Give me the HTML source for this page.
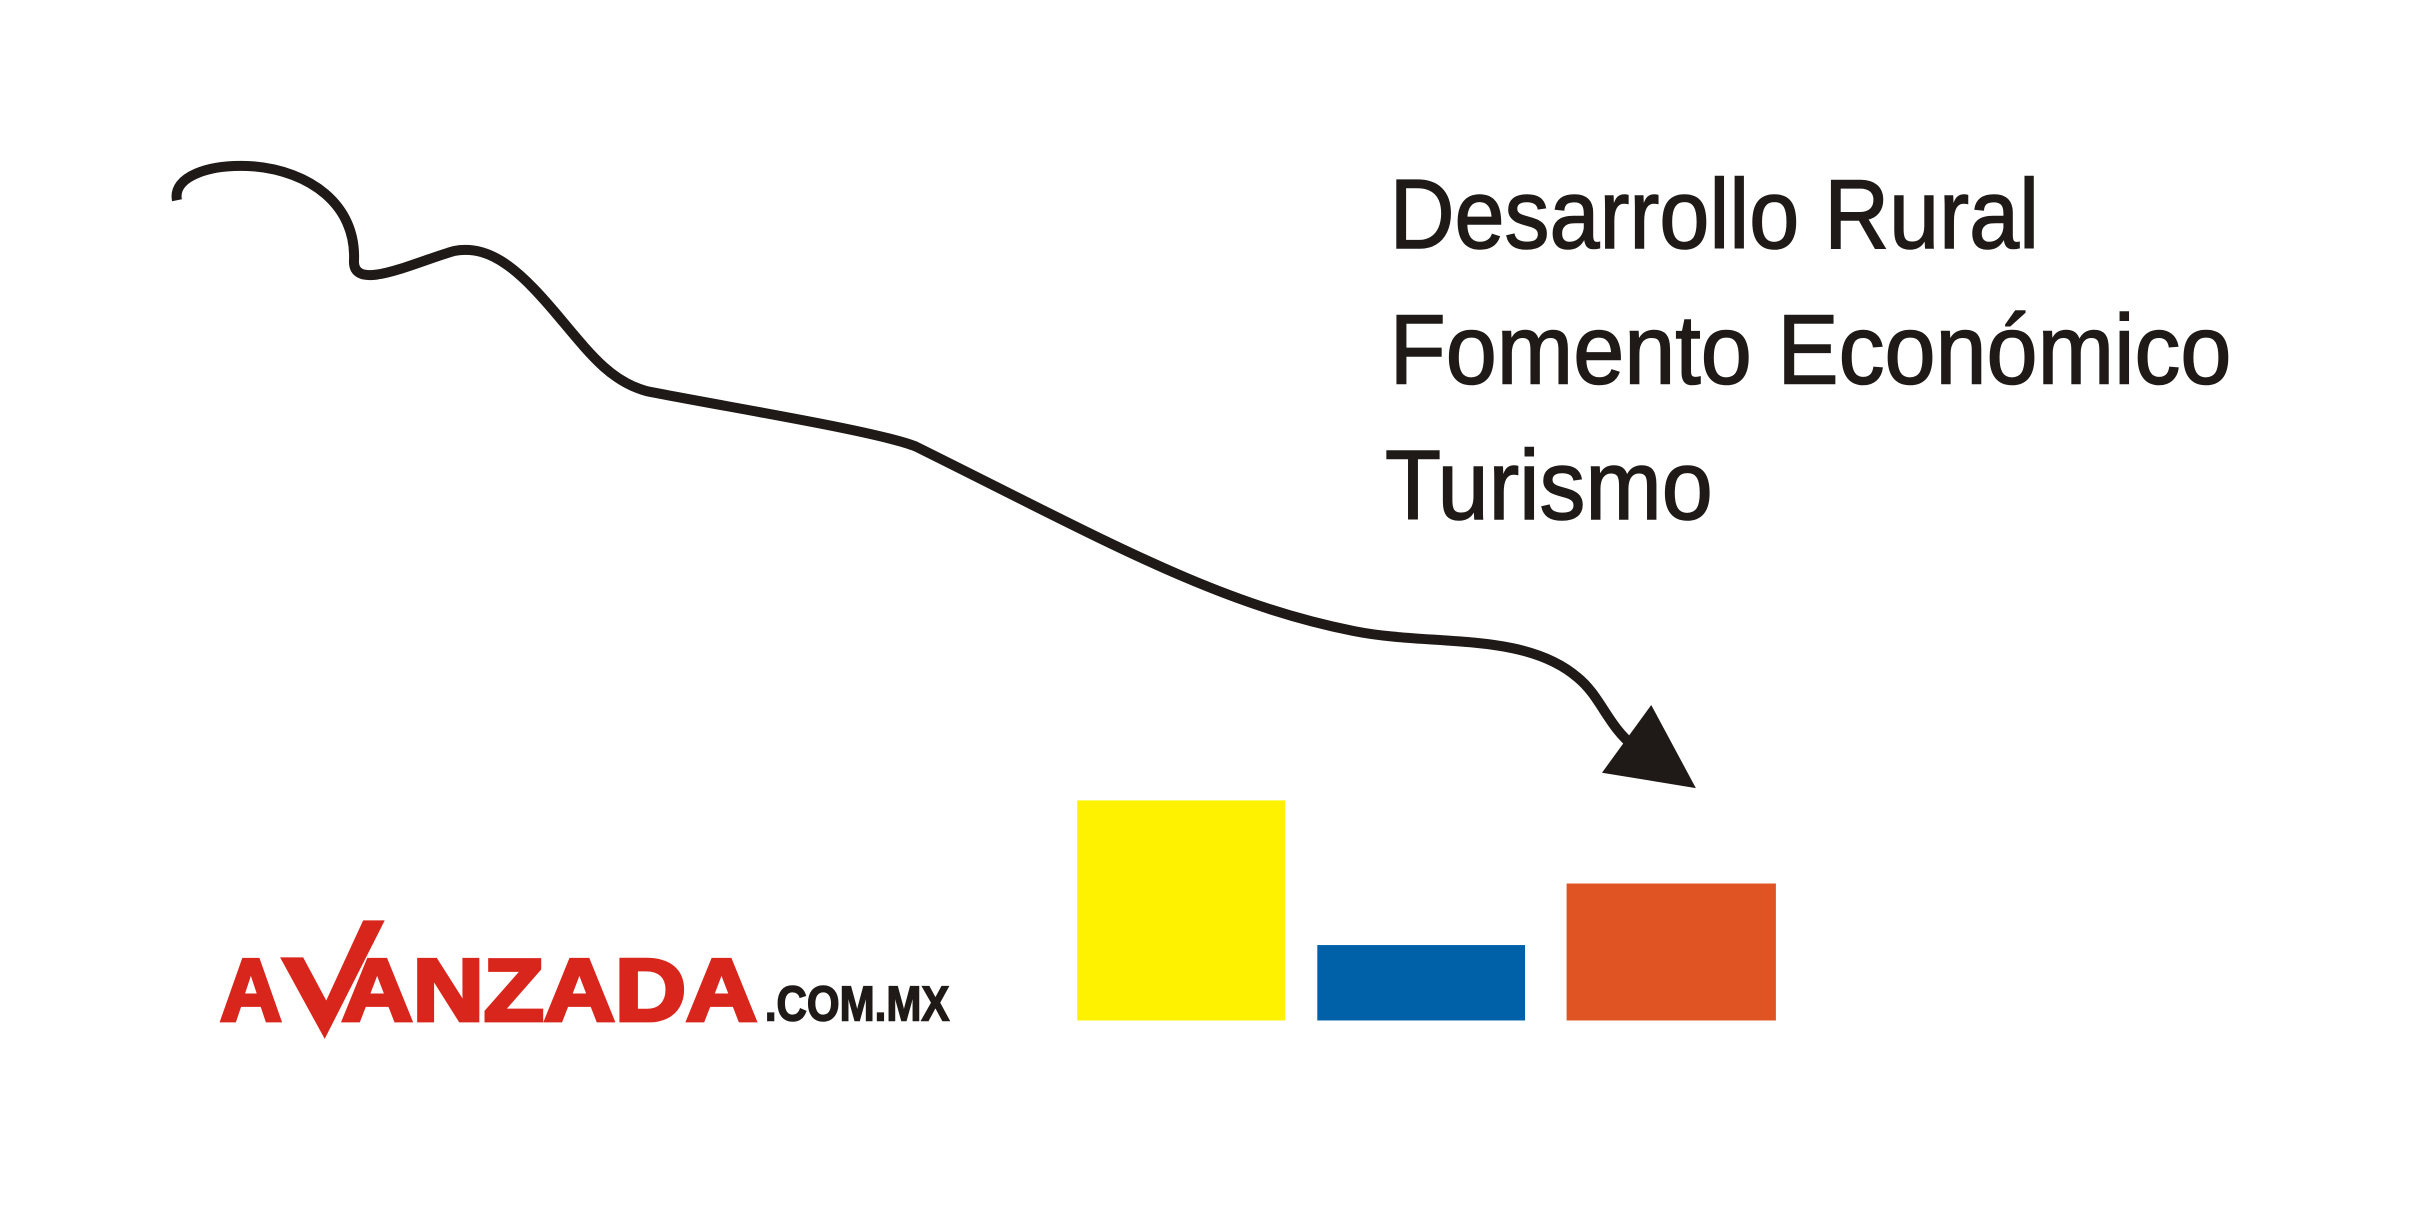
<!DOCTYPE html>
<html><head><meta charset="utf-8"><style>
html,body{margin:0;padding:0;background:#fff;width:2413px;height:1213px;overflow:hidden}
svg{display:block}
</style></head><body>
<svg width="2413" height="1213" viewBox="0 0 1568 788" xmlns="http://www.w3.org/2000/svg">
<rect width="1568" height="788" fill="#fff"/>
<path d="M115,130 C112,115 135,106 165,108 C200,111 232,132 230,170 C230,190 270,170 295,163 C320,158 340,178 365,208 C385,232 398,248 420,254 C470,264 570,280 595,290 C720,352 790,392 880,410 C930,420 990,410 1025,440 C1040,452 1045,472 1062,485" fill="none" stroke="#1f1a17" stroke-width="6.5"/>
<polygon points="1073,458 1102,512 1041,502" fill="#1f1a17"/>
<g font-family="'Liberation Sans',sans-serif" fill="#1f1a17" font-size="64" stroke="#1f1a17" stroke-width="1">
<text x="903" y="161" textLength="422" lengthAdjust="spacingAndGlyphs">Desarrollo Rural</text>
<text x="903" y="249" textLength="547" lengthAdjust="spacingAndGlyphs">Fomento Económico</text>
<text x="900" y="337" textLength="213" lengthAdjust="spacingAndGlyphs">Turismo</text>
</g>
<rect x="700" y="520" width="135" height="143" fill="#fff200"/>
<rect x="856" y="614" width="135" height="49" fill="#0060a8"/>
<rect x="1018" y="574" width="136" height="89" fill="#e05323"/>
<g font-family="'Liberation Sans',sans-serif" font-weight="bold">
<text x="143" y="663" font-size="57" fill="#d9261c" stroke="#d9261c" stroke-width="2.5" textLength="40" lengthAdjust="spacingAndGlyphs">A</text>
<polygon points="182,622 197,622 212,650 236,598 250,598 211,675" fill="#d9261c"/>
<text x="222" y="663" font-size="57" fill="#d9261c" stroke="#d9261c" stroke-width="2.5" textLength="270" lengthAdjust="spacingAndGlyphs">ANZADA</text>
<text x="497" y="663" font-size="32" fill="#1f1a17" stroke="#1f1a17" stroke-width="1" textLength="120" lengthAdjust="spacingAndGlyphs">.COM.MX</text>
</g>
</svg>
</body></html>
